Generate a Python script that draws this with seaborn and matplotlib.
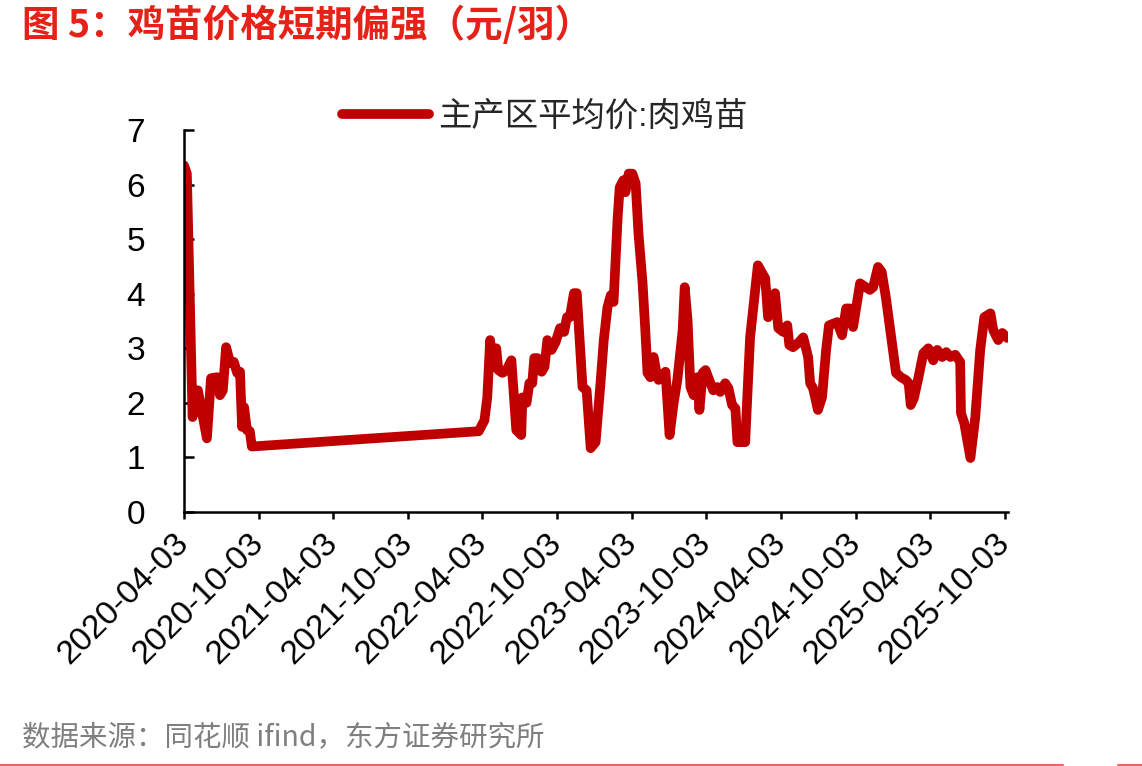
import matplotlib
matplotlib.use('Agg')
import matplotlib.pyplot as plt
from matplotlib.lines import Line2D
import seaborn as sns
import pandas as pd

title_text = '图 5：鸡苗价格短期偏强（元/羽）'
source_text = '数据来源：同花顺 ifind，东方证券研究所'
series_name = '主产区平均价:肉鸡苗'

dates = [
    '2020-04-03', '2020-04-10', '2020-04-24', '2020-05-07', '2020-05-29', '2020-06-08',
    '2020-06-23', '2020-06-30', '2020-07-07', '2020-07-15', '2020-07-25', '2020-08-03',
    '2020-08-11', '2020-08-18', '2020-08-23', '2020-08-28', '2020-09-04', '2020-09-11',
    '2020-09-16',
    '2022-03-25', '2022-04-08', '2022-04-15', '2022-04-22', '2022-04-27', '2022-05-07',
    '2022-05-12', '2022-05-22', '2022-06-01', '2022-06-13', '2022-06-25', '2022-07-07',
    '2022-07-10', '2022-07-20', '2022-07-27', '2022-08-03', '2022-08-08', '2022-08-16',
    '2022-08-26', '2022-09-02', '2022-09-09', '2022-09-19', '2022-09-29', '2022-10-10',
    '2022-10-20', '2022-10-27', '2022-11-03', '2022-11-13', '2022-11-20', '2022-12-04',
    '2022-12-14', '2022-12-24', '2023-01-05', '2023-01-17', '2023-01-25', '2023-02-03',
    '2023-02-11', '2023-02-18', '2023-02-28', '2023-03-05', '2023-03-14', '2023-03-19',
    '2023-03-27', '2023-04-05', '2023-04-13', '2023-04-20', '2023-04-30', '2023-05-07',
    '2023-05-12', '2023-05-19', '2023-05-27', '2023-06-03', '2023-06-08', '2023-06-18',
    '2023-06-25', '2023-07-05', '2023-07-15', '2023-07-24', '2023-08-06', '2023-08-11',
    '2023-08-18', '2023-08-25', '2023-09-02', '2023-09-11', '2023-09-16', '2023-09-24',
    '2023-10-01', '2023-10-13', '2023-10-20', '2023-10-30', '2023-11-06', '2023-11-18',
    '2023-11-26', '2023-12-05', '2023-12-13', '2023-12-18', '2024-01-06', '2024-01-18',
    '2024-02-06', '2024-02-24', '2024-03-02', '2024-03-10', '2024-03-19', '2024-03-27',
    '2024-04-08', '2024-04-18', '2024-04-23', '2024-05-02', '2024-05-15', '2024-05-27',
    '2024-06-08', '2024-06-13', '2024-06-20', '2024-07-02', '2024-07-12', '2024-07-22',
    '2024-07-29', '2024-08-18', '2024-08-30', '2024-09-09', '2024-09-18', '2024-09-26',
    '2024-10-13', '2024-10-27', '2024-11-06', '2024-11-14', '2024-11-26', '2024-12-05',
    '2024-12-15', '2024-12-27', '2025-01-09', '2025-01-21', '2025-02-02', '2025-02-09',
    '2025-02-14', '2025-02-22', '2025-03-05', '2025-03-17', '2025-03-29', '2025-04-10',
    '2025-04-20', '2025-05-02', '2025-05-12', '2025-05-22', '2025-06-03', '2025-06-15',
    '2025-06-17', '2025-06-25', '2025-07-10', '2025-07-22', '2025-08-03', '2025-08-13',
    '2025-08-28', '2025-09-04', '2025-09-16', '2025-09-26', '2025-10-08',
]

prices = [
    6.35, 6.20, 1.74, 2.23, 1.35, 2.45,
    2.47, 2.14, 2.23, 3.02, 2.73, 2.75,
    2.55, 2.57, 1.56, 1.92, 1.50, 1.48,
    1.20,
    1.48, 1.68, 2.10, 3.15, 2.66, 3.00,
    2.60, 2.55, 2.60, 2.78, 1.50, 1.41,
    2.10, 2.00, 2.36, 2.36, 2.82, 2.82,
    2.57, 2.66, 3.15, 2.97, 3.11, 3.37,
    3.30, 3.57, 3.57, 4.01, 4.01, 2.29,
    2.23, 1.17, 1.28, 2.36, 3.15, 3.75,
    3.97, 3.85, 5.40, 5.95, 6.08, 5.86,
    6.20, 6.20, 6.02, 5.10, 4.19, 3.28,
    2.55, 2.47, 2.84, 2.55, 2.42, 2.51,
    2.57, 1.41, 2.00, 2.42, 3.33, 4.12,
    3.52, 2.29, 2.14, 2.47, 1.87, 2.55,
    2.60, 2.36, 2.23, 2.29, 2.20, 2.36,
    2.27, 1.96, 1.90, 1.28, 1.28, 3.20,
    4.52, 4.28, 3.57, 3.73, 4.01, 3.37,
    3.30, 3.42, 3.06, 3.02, 3.10, 3.20,
    2.84, 2.36, 2.27, 1.87, 2.10, 2.97,
    3.42, 3.48, 3.24, 3.73, 3.73, 3.39,
    4.19, 4.12, 4.07, 4.12, 4.49, 4.40,
    3.94, 3.28, 2.55, 2.47, 2.42, 2.36,
    1.96, 2.09, 2.47, 2.91, 3.00, 2.78,
    2.97, 2.84, 2.93, 2.84, 2.88, 2.75,
    1.81, 1.63, 0.99, 1.74, 2.97, 3.57,
    3.64, 3.33, 3.15, 3.28, 3.19,
]

x_tick_labels = [
    '2020-04-03', '2020-10-03', '2021-04-03', '2021-10-03', '2022-04-03', '2022-10-03',
    '2023-04-03', '2023-10-03', '2024-04-03', '2024-10-03', '2025-04-03', '2025-10-03',
]
y_ticks = [0, 1, 2, 3, 4, 5, 6, 7]

sns.set_theme(style='white')
plt.rcParams['font.family'] = ['Liberation Sans', 'Noto Sans CJK SC', 'DejaVu Sans']

fig = plt.figure(figsize=(11.42, 7.66), dpi=100)
ax = fig.add_axes([184 / 1142, 1 - 512 / 766, (1008 - 184) / 1142, (512 - 130) / 766])

df = pd.DataFrame({'date': pd.to_datetime(dates), 'price': prices, 'series': series_name})
sns.lineplot(data=df, x='date', y='price', hue='series', palette=['#C00000'],
             linewidth=7, ax=ax, legend=True)
for ln in ax.get_lines():
    ln.set_solid_joinstyle('round')
    ln.set_solid_capstyle('round')

ax.set_xlim(pd.Timestamp('2020-04-03'), pd.Timestamp('2025-10-10'))
ax.set_ylim(0, 7)
ax.set_xticks(pd.to_datetime(x_tick_labels))
ax.set_xticklabels(x_tick_labels, rotation=45, ha='right', va='center',
                   rotation_mode='anchor', fontsize=24)
ax.set_yticks(y_ticks)
ax.set_yticklabels([str(v) for v in y_ticks], fontsize=24)
ax.set_xlabel('')
ax.set_ylabel('')

for s in ['top', 'right']:
    ax.spines[s].set_visible(False)
for s in ['left', 'bottom']:
    ax.spines[s].set_color('black')
    ax.spines[s].set_linewidth(1.8)
ax.tick_params(axis='y', direction='in', length=7, width=1.8, color='black', pad=28,
               left=True, labelcolor='black')
ax.tick_params(axis='x', direction='out', length=5, width=1.8, color='black', pad=14,
               bottom=True, labelcolor='black')
ax.grid(False)

handles, labels = ax.get_legend_handles_labels()
leg = ax.legend(handles, labels, loc='center', bbox_to_anchor=(545 / 1142, 1 - 117 / 766),
                bbox_transform=fig.transFigure, frameon=False, fontsize=24,
                handlelength=2.6, handletextpad=0.3)
for h in leg.get_lines():
    h.set_linewidth(7)
    h.set_solid_capstyle('round')

fig.text(22 / 1142, 1 - 25 / 766, title_text, color='#E62117', fontsize=27,
         fontweight='bold', family=['Noto Sans CJK SC', 'DejaVu Sans'], ha='left', va='center')
fig.text(22 / 1142, 1 - 737 / 766, source_text, color='#7F7F7F', fontsize=20.5,
         family=['Noto Sans CJK SC', 'DejaVu Sans'], ha='left', va='center')

fig.add_artist(Line2D([0, 1063 / 1142], [1 - 764.5 / 766] * 2, transform=fig.transFigure,
                      color='#E06C5F', lw=1.5))
fig.add_artist(Line2D([1118 / 1142, 1], [1 - 764.5 / 766] * 2, transform=fig.transFigure,
                      color='#E06C5F', lw=1.5))

fig.savefig('out.png', dpi=100)
